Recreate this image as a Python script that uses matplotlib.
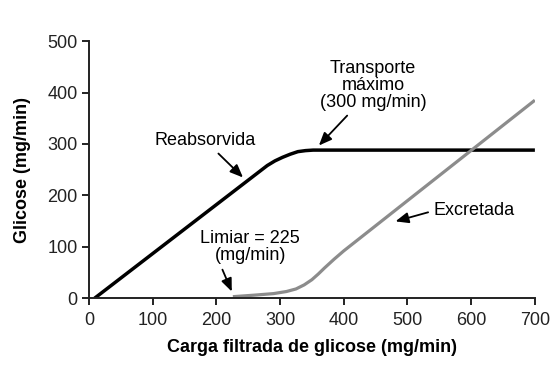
import matplotlib
matplotlib.use("Agg")
import matplotlib.pyplot as plt
import numpy as np

plt.rcParams['font.family'] = ['Liberation Sans', 'DejaVu Sans']

# curva reabsorvida (mg/min)
reab_x = [9, 280, 292, 304, 316, 328, 340, 352, 700]
reab_y = [0, 258, 267, 274, 280, 285, 287, 288, 288]

# curva excretada (mg/min)
excr_x = [226, 260, 290, 310, 325, 338, 350, 360, 370, 385, 400, 700]
excr_y = [3, 6, 9, 13, 18, 26, 36, 47, 59, 76, 92, 385]

xticks = [0, 100, 200, 300, 400, 500, 600, 700]
yticks = [0, 100, 200, 300, 400, 500]

fig = plt.figure(figsize=(5.52, 3.70), dpi=100)
ax = fig.add_axes([0.161, 0.194, 0.808, 0.695])

ax.plot(reab_x, reab_y, color="black", lw=2.5, solid_capstyle="butt")
ax.plot(excr_x, excr_y, color="#8c8c8c", lw=2.3, solid_capstyle="butt")

ax.set_xlim(0, 700)
ax.set_ylim(0, 500)
ax.set_xticks(xticks)
ax.set_yticks(yticks)
ax.spines["top"].set_visible(False)
ax.spines["right"].set_visible(False)
for s in ["left", "bottom"]:
    ax.spines[s].set_linewidth(1.4)
    ax.spines[s].set_color("#222222")
ax.tick_params(direction="out", length=5, width=1.4, labelsize=13,
               colors="#222222", pad=3)
ax.tick_params(axis="x", pad=5)

ax.set_xlabel("Carga filtrada de glicose (mg/min)", fontsize=13, fontweight="bold", labelpad=7)
ax.set_ylabel("Glicose (mg/min)", fontsize=13, fontweight="bold", labelpad=12)

seta = dict(arrowstyle="-|>,head_length=0.6,head_width=0.25", color="black", lw=1.3)

ax.annotate("Reabsorvida", xy=(245, 231), xytext=(182, 307),
            ha="center", va="center", fontsize=13, arrowprops=seta)
ax.annotate("Transporte\nmáximo\n(300 mg/min)", xy=(358, 293), xytext=(446, 414),
            ha="center", va="center", fontsize=13, linespacing=1.0,
            arrowprops=dict(seta, relpos=(0.3, 0)))
ax.annotate("Excretada", xy=(477, 148), xytext=(541, 170),
            ha="left", va="center", fontsize=13,
            arrowprops=dict(seta, relpos=(0, 0.5)))
ax.annotate("Limiar = 225\n(mg/min)", xy=(226, 8), xytext=(253, 99),
            ha="center", va="center", fontsize=13, linespacing=1.0,
            arrowprops=dict(seta, relpos=(0.2, 0)))

fig.savefig("out.png", dpi=100)
